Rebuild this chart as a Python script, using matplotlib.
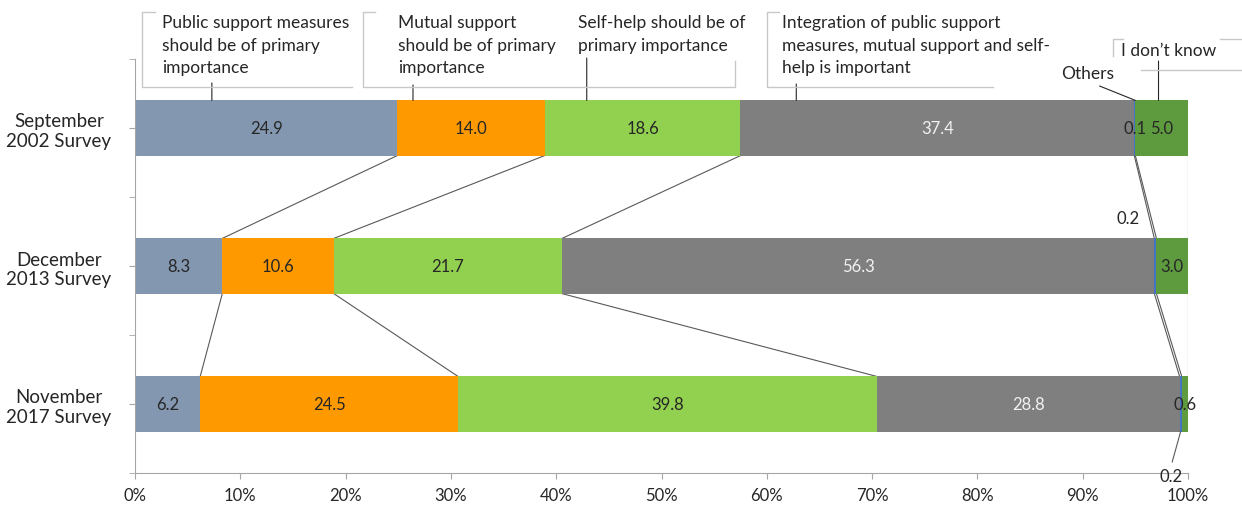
import matplotlib.pyplot as plt
from matplotlib.lines import Line2D
import numpy as np

plt.rcParams['font.family'] = ['Lato', 'DejaVu Sans']

W, H = 1242, 510

surveys = ['September\n2002 Survey', 'December\n2013 Survey', 'November\n2017 Survey']
public = [24.9, 8.3, 6.2]
mutual = [14.0, 10.6, 24.5]
selfhelp = [18.6, 21.7, 39.8]
integration = [37.4, 56.3, 28.8]
others = [0.1, 0.2, 0.2]
dont_know = [5.0, 3.0, 0.6]
xtick_vals = list(range(0, 101, 10))

colors = ['#8497B0', '#FF9900', '#92D050', '#7F7F7F', '#4472C4', '#5E9B3E']
txt_colors = ['#262626', '#262626', '#262626', '#F2F2F2', '#262626', '#262626']
dark = '#262626'
axis_gray = '#A6A6A6'
frame_gray = '#C8C8C8'
line_gray = '#595959'

vals = np.array([public, mutual, selfhelp, integration, others, dont_know])
# 100% stacked: normalise every survey to its total
pct = vals / vals.sum(axis=0) * 100
right = np.cumsum(pct, axis=0)
left = right - pct
ypos = np.arange(len(surveys))
bar_h = 0.4

fig = plt.figure(figsize=(W / 100, H / 100), dpi=100)
ax = fig.add_axes([135 / W, 1 - 474 / H, (1188 - 135) / W, (474 - 60) / H])

for i in range(len(vals)):
    ax.barh(ypos, pct[i], left=left[i], height=bar_h, color=colors[i],
            edgecolor='none', zorder=2)

# series lines between the bars
for i in range(len(vals)):
    for j in range(len(surveys) - 1):
        ax.plot([right[i, j], right[i, j + 1]], [j + bar_h / 2, j + 1 - bar_h / 2],
                color=line_gray, lw=0.8, zorder=1)

# data labels
lab_fs = 12
for i in range(len(vals)):
    for j in range(len(surveys)):
        cx = left[i, j] + pct[i, j] / 2
        s = f'{vals[i, j]:.1f}'
        if (i, j) == (4, 2):
            ax.annotate(s, xy=(cx, j + bar_h / 2), xytext=(-10, -36),
                        textcoords='offset pixels', ha='center', va='top',
                        fontsize=lab_fs, color=dark,
                        arrowprops=dict(arrowstyle='-', color=line_gray, lw=0.8,
                                        relpos=(0.5, 1.0), shrinkA=2, shrinkB=0))
        elif (i, j) == (4, 1):
            ax.annotate(s, xy=(cx, j), xytext=(-27, 48), textcoords='offset pixels',
                        ha='center', va='center', fontsize=lab_fs, color=dark)
        else:
            ax.text(cx, j, s, ha='center', va='center', fontsize=lab_fs,
                    color=txt_colors[i], zorder=3)

ax.set_xlim(0, 100)
ax.set_ylim(2.5, -0.5)
ax.set_xticks(xtick_vals)
ax.set_xticklabels([f'{v}%' for v in xtick_vals])
ax.set_yticks(ypos)
ax.set_yticklabels(surveys, multialignment='center')
ax.set_yticks([-0.5, 0.5, 1.5, 2.5], minor=True)
for s in ['top', 'right']:
    ax.spines[s].set_visible(False)
for s in ['left', 'bottom']:
    ax.spines[s].set_color(axis_gray)
ax.tick_params(axis='both', which='both', color=axis_gray, length=4, labelcolor=dark)
ax.tick_params(axis='x', labelsize=12, pad=6)
ax.tick_params(axis='y', labelsize=13.5, pad=13)

# callout frames (pixel coordinates, Excel-style brackets)
frames = [
    [(155, 13), (142, 13), (142, 88), (352, 88)],
    [(375, 13), (363, 13), (363, 88), (735, 88), (735, 62)],
    [(779, 13), (767, 13), (767, 88), (993, 88)],
    [(1123, 40), (1113, 40), (1113, 57)],
    [(1220, 40), (1242, 40)],
    [(1141, 71), (1242, 71)],
]
for fr in frames:
    xs = [p[0] / W for p in fr]
    ys = [1 - p[1] / H for p in fr]
    fig.add_artist(Line2D(xs, ys, color=frame_gray, lw=1.0, transform=fig.transFigure))

callouts = [
    ('Public support measures\nshould be of primary\nimportance', 162, 15),
    ('Mutual support\nshould be of primary\nimportance', 398, 15),
    ('Self-help should be of\nprimary importance', 578, 15),
    ('Integration of public support\nmeasures, mutual support and self-\nhelp is important', 782, 15),
    ('I don’t know', 1121, 43),
    ('Others', 1061, 66),
]
for s, x, y in callouts:
    fig.text(x / W, 1 - y / H, s, ha='left', va='top', fontsize=12.5, color=dark,
             linespacing=1.5)

# leader lines: (x on bar in %, leader start x in %, start y in pixels)
leaders = [(7.3, 7.3, 84), (26.4, 26.4, 86), (42.9, 42.9, 59), (62.8, 62.8, 85),
           (97.2, 97.2, 62), (95.0, 91.6, 87)]
for xb, xs, ys in leaders:
    ax.annotate('', xy=(xb, -bar_h / 2), xytext=(xs, H - ys),
                textcoords=('data', 'figure pixels'),
                arrowprops=dict(arrowstyle='-', color=dark, lw=0.8,
                                shrinkA=0, shrinkB=0))

fig.savefig('out.png', dpi=100)
